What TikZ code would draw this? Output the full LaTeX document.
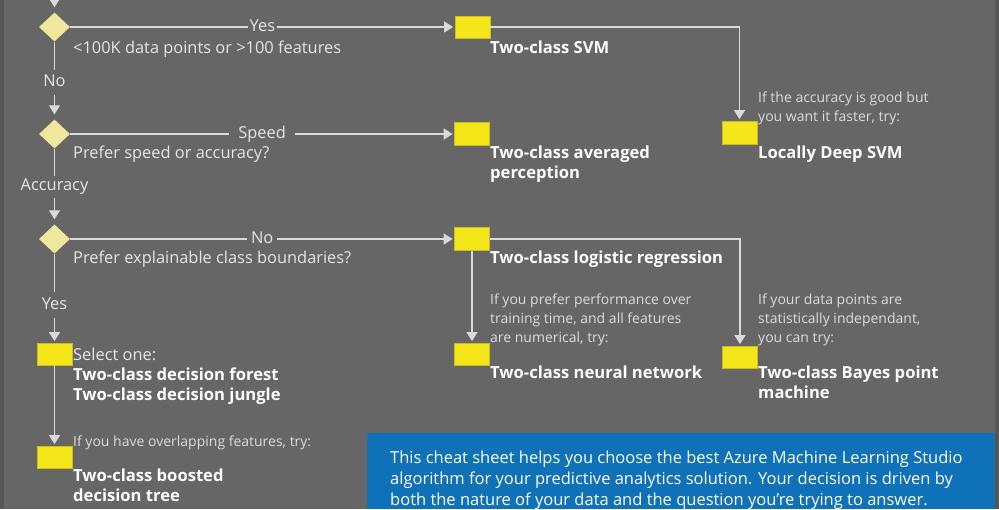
\documentclass[tikz,border=0pt]{standalone}
\usepackage{fontspec}
\setmainfont{Open Sans}
\usetikzlibrary{arrows.meta,shapes.geometric}
\definecolor{bggray}{HTML}{666666}
\definecolor{edgegray}{HTML}{565656}
\definecolor{linegray}{HTML}{DADADA}
\definecolor{qtext}{HTML}{E6E6E6}
\definecolor{notetext}{HTML}{DCDCDC}
\definecolor{boxyellow}{HTML}{F5E61A}
\definecolor{boxedge}{HTML}{C9BC2A}
\definecolor{diayellow}{HTML}{EFE89C}
\definecolor{infoblue}{HTML}{0F71B8}
\newcommand{\mylines}[1]{\begin{tabular}[t]{@{}l@{}}#1\end{tabular}}
\begin{document}
\begin{tikzpicture}[x=1pt,y=-1pt,
  ybox/.style={rectangle, draw=boxedge, line width=0.8pt, fill=boxyellow, minimum width=35pt, minimum height=22pt, inner sep=0pt},
  dec/.style={diamond, fill=diayellow, inner sep=0pt, minimum width=31pt, minimum height=29pt},
  conn/.style={draw=linegray, line width=1.3pt},
  arr/.style={conn, -{Triangle[length=9pt,width=11pt]}, shorten >=1.5pt},
  qlabel/.style={anchor=base west, inner sep=0pt, text=qtext, font=\fontsize{16.4}{20}\selectfont},
  edgelabel/.style={fill=bggray, text=qtext, font=\fontsize{16.4}{20}\selectfont, text height=12pt, text depth=4pt, inner ysep=0pt, inner xsep=2pt},
  result/.style={anchor=base west, inner sep=0pt, text=white, font=\bfseries\fontsize{16.6}{20}\selectfont},
  note/.style={anchor=base west, inner sep=0pt, text=notetext, font=\fontsize{14}{19}\selectfont},
]
\fill[bggray] (0,0) rectangle (999,509);
\fill[edgegray] (0,0) rectangle (4,509);
\fill[edgegray] (995,0) rectangle (999,509);
\useasboundingbox (0,0) rectangle (999,509);

% decisions
\node[dec] (d1) at (54.5,27) {};
\node[dec] (d2) at (54.5,134) {};
\node[dec] (d3) at (54.5,239) {};
% algorithm boxes
\node[ybox] (svm) at (472.5,27) {};
\node[ybox, minimum height=23pt] (avp) at (472,134) {};
\node[ybox, minimum height=23pt] (lr) at (472,239) {};
\node[ybox, minimum height=23pt] (ldsvm) at (739.5,132.5) {};
\node[ybox] (nn) at (472,354) {};
\node[ybox] (bpm) at (740,357) {};
\node[ybox] (sel) at (54.5,354) {};
\node[ybox] (bdt) at (54.5,457) {};
\coordinate (start) at (54.5,0);

% connectors
\draw[arr, shorten >=5pt] (start) -- (d1.north);
\draw[arr] (d1.east) -- node[edgelabel, inner xsep=2pt] (l-yes1) {Yes} (svm.west);
\draw[arr, shorten >=5pt] (d1.south) -- node[edgelabel, pos=0.52, inner ysep=4.5pt] (l-no1) {No} (d2.north);
\draw[arr] (d2.east) -- node[edgelabel, inner xsep=9pt] (l-speed) {Speed} (avp.west);
\draw[arr, shorten >=5pt] (d2.south) -- node[edgelabel, inner ysep=3pt] (l-acc) {Accuracy} (d3.north);
\draw[arr] (d3.east) -- node[edgelabel, inner xsep=4pt] (l-no2) {No} (lr.west);
\draw[arr] (d3.south) -- node[edgelabel, pos=0.58, inner ysep=5pt] (l-yes2) {Yes} (sel.north);
\draw[arr] (sel.south) -- (bdt.north);
\draw[arr] (svm.east) -| (ldsvm.north);
\draw[arr] (lr.east) -| (bpm.north);
\draw[arr] (lr.south) -- (nn.north);

% texts
\node[qlabel] (q1) at (73,53) {<100K data points or >100 features};
\node[result] (t-svm) at (490,53) {Two-class SVM};
\node[qlabel] (q2) at (73,158) {Prefer speed or accuracy?};
\node[result] (t-avp) at (490,158) {\mylines{Two-class averaged\\perception}};
\node[note] (n-ld) at (758,102) {\mylines{If the accuracy is good but\\you want it faster, try:}};
\node[result] (t-ld) at (758,158) {Locally Deep SVM};
\node[qlabel] (q3) at (73,263) {Prefer explainable class boundaries?};
\node[result] (t-lr) at (490,263) {Two-class logistic regression};
\node[note] (n-nn) at (490,304) {\mylines{If you prefer performance over\\training time, and all features\\are numerical, try:}};
\node[result] (t-nn) at (490,378) {Two-class neural network};
\node[note] (n-bpm) at (758,304) {\mylines{If your data points are\\statistically independant,\\you can try:}};
\node[result] (t-bpm) at (758,378) {\mylines{Two-class Bayes point\\machine}};
\node[qlabel] (t-sel) at (73,360) {Select one:};
\node[result] (t-df) at (73,380) {\mylines{Two-class decision forest\\Two-class decision jungle}};
\node[note] (n-bdt) at (73,446) {If you have overlapping features, try:};
\node[result] (t-bdt) at (73,481) {\mylines{Two-class boosted\\decision tree}};

% info panel
\node[fill=infoblue, anchor=north west, minimum width=628pt, minimum height=76pt, inner sep=0pt] (info) at (367,433) {};
\node[anchor=base west, inner sep=0pt, text=white, font=\fontsize{16.5}{21}\selectfont] (infotext) at (390,463) {\mylines{This cheat sheet helps you choose the best Azure Machine Learning Studio\\algorithm for your predictive analytics solution. Your decision is driven by\\both the nature of your data and the question you're trying to answer.}};
\end{tikzpicture}
\end{document}
